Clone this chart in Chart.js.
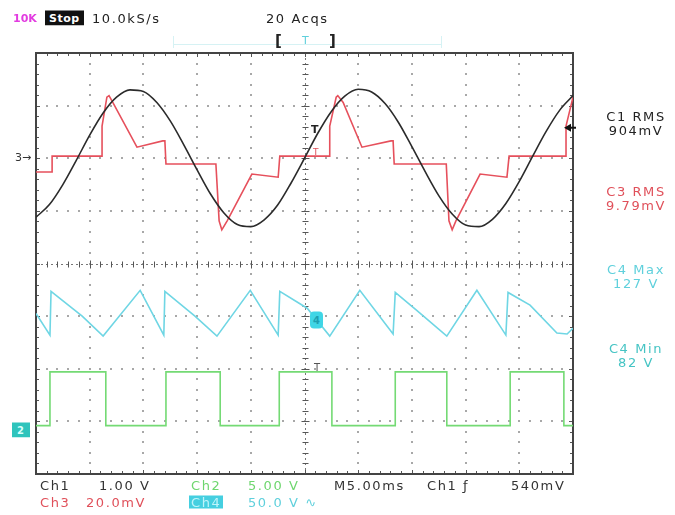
<!DOCTYPE html>
<html><head><meta charset="utf-8">
<script src="https://cdn.jsdelivr.net/npm/chart.js@4/dist/chart.umd.min.js"></script>
<style>
html,body{margin:0;padding:0;background:#fff;}
#wrap{position:relative;width:675px;height:515px;overflow:hidden;background:#fff;}
#c{position:absolute;left:0;top:0;}
.t{position:absolute;font-family:"DejaVu Sans",sans-serif;font-size:13px;letter-spacing:1.6px;white-space:nowrap;line-height:13px;transform:translateY(-50%);}
.r{text-align:center;width:90px;}
</style></head><body>
<div id="wrap">
<canvas id="c" width="675" height="515"></canvas>
<div class="t" style="left:13px;top:18px;color:#e23ce0;font-size:11px;font-weight:bold;letter-spacing:0">10K</div>
<div class="t" style="left:45px;top:18px;background:#111;color:#fff;font-size:11px;font-weight:bold;letter-spacing:0.5px;padding:1px 4px">Stop</div>
<div class="t" style="left:92px;top:18px;color:#222">10.0kS/s</div>
<div class="t" style="left:266px;top:18px;color:#222">20 Acqs</div>
<div class="t" style="left:275px;top:41px;color:#222;font-weight:bold;font-size:15px">[</div>
<div class="t" style="left:302px;top:40px;color:#5fd0dc;font-size:11px">T</div>
<div class="t" style="left:329px;top:41px;color:#222;font-weight:bold;font-size:15px">]</div>

<div class="t" style="left:40px;top:485px;color:#333">Ch1</div>
<div class="t" style="left:99px;top:485px;color:#333">1.00 V</div>
<div class="t" style="left:191px;top:485px;color:#6ed66e">Ch2</div>
<div class="t" style="left:248px;top:485px;color:#6ed66e">5.00 V</div>
<div class="t" style="left:334px;top:485px;color:#333">M5.00ms</div>
<div class="t" style="left:427px;top:485px;color:#333">Ch1 ƒ</div>
<div class="t" style="left:511px;top:485px;color:#333">540mV</div>
<div class="t" style="left:40px;top:502px;color:#e0505a">Ch3</div>
<div class="t" style="left:86px;top:502px;color:#e0505a">20.0mV</div>
<div class="t" style="left:189px;top:502px;background:#45cfe0;color:#bff4fa;padding:0 2px">Ch4</div>
<div class="t" style="left:248px;top:502px;color:#5fd0dc">50.0 V ∿</div>

<div class="t r" style="left:591px;top:116px;color:#222">C1 RMS</div>
<div class="t r" style="left:591px;top:130px;color:#222">904mV</div>
<div class="t r" style="left:591px;top:191px;color:#e0505a">C3 RMS</div>
<div class="t r" style="left:591px;top:205px;color:#e0505a">9.79mV</div>
<div class="t r" style="left:591px;top:269px;color:#5fd0dc">C4 Max</div>
<div class="t r" style="left:591px;top:283px;color:#5fd0dc">127 V</div>
<div class="t r" style="left:591px;top:348px;color:#45c4c4">C4 Min</div>
<div class="t r" style="left:591px;top:362px;color:#45c4c4">82 V</div>

<div class="t" style="left:15px;top:157px;color:#333;font-size:11px;letter-spacing:0">3→</div>
<div class="t" style="left:311px;top:129px;color:#222;font-size:11px;font-weight:bold;letter-spacing:0">T</div>
<div class="t" style="left:313px;top:152px;color:#e0505a;font-size:9px;letter-spacing:0">T</div>
<div class="t" style="left:314px;top:367px;color:#555;font-size:10px;letter-spacing:0">T</div>
<div class="t" style="left:310px;top:320px;background:#3fd6e6;color:#1d9fb2;font-size:10px;font-weight:bold;letter-spacing:0;padding:2px 3px;border-radius:4px">4</div>
<div class="t" style="left:12px;top:430px;background:#2ec4bc;color:#d8fffb;font-size:10px;font-weight:bold;letter-spacing:0;padding:1px 6px 1px 5px">2</div>
</div>
<script>
// time axis in divisions (0..10, 5 ms/div), level in divisions (-4..4)
const ch1Time = [0,0.25,0.5,0.75,1,1.25,1.5,1.75,2,2.25,2.5,2.75,3,3.25,3.5,3.75,4,4.25,4.5,4.75,5,5.25,5.5,5.75,6,6.25,6.5,6.75,7,7.25,7.5,7.75,8,8.25,8.5,8.75,9,9.25,9.5,9.75,10];
const ch1Level = [0.88,1.12,1.50,1.96,2.44,2.86,3.16,3.30,3.27,3.06,2.71,2.26,1.78,1.32,0.96,0.74,0.70,0.83,1.11,1.53,2.00,2.48,2.89,3.18,3.31,3.26,3.04,2.68,2.22,1.74,1.29,0.94,0.73,0.70,0.84,1.14,1.56,2.04,2.51,2.91,3.19];

const ch3Time = [0,0.30,0.30,1.23,1.23,1.32,1.36,1.43,1.88,2.36,2.40,2.42,3.35,3.41,3.46,3.56,4.02,4.51,4.54,5.47,5.47,5.59,5.62,5.72,6.07,6.61,6.65,6.67,7.64,7.69,7.75,7.82,8.27,8.77,8.81,9.87,9.87,10];
const ch3Level = [1.74,1.74,2.04,2.04,2.61,3.16,3.19,3.06,2.21,2.33,2.33,1.89,1.89,0.81,0.64,0.81,1.70,1.64,2.04,2.04,2.61,3.16,3.19,3.06,2.21,2.33,2.33,1.89,1.89,0.81,0.64,0.81,1.70,1.64,2.04,2.04,2.61,3.16];

const ch4Time = [0,0.26,0.28,0.86,1.25,1.94,2.38,2.40,2.96,3.37,3.99,4.51,4.54,5.05,5.47,6.03,6.65,6.69,7.09,7.65,8.21,8.75,8.79,9.20,9.70,9.89,10];
const ch4Level = [-0.95,-1.36,-0.53,-1.00,-1.38,-0.51,-1.36,-0.53,-1.00,-1.38,-0.51,-1.36,-0.53,-0.85,-1.38,-0.51,-1.34,-0.55,-0.89,-1.38,-0.51,-1.36,-0.55,-0.79,-1.32,-1.34,-1.23];

const ch2Time = [0,0.26,0.26,1.30,1.30,2.42,2.42,3.43,3.43,4.53,4.53,5.51,5.51,6.69,6.69,7.65,7.65,8.83,8.83,9.83,9.83,10];
const ch2Level = [-3.08,-3.08,-2.06,-2.06,-3.08,-3.08,-2.06,-2.06,-3.08,-3.08,-2.06,-2.06,-3.08,-3.08,-2.06,-2.06,-3.08,-3.08,-2.06,-2.06,-3.08,-3.08];

const pts = (xs, ys) => xs.map((v, i) => ({x: v, y: ys[i]}));

const graticule = {
  id: 'graticule',
  beforeDatasetsDraw(chart) {
    const {ctx, chartArea: a, scales: {x, y}} = chart;
    ctx.save();
    // dotted division lines
    ctx.fillStyle = '#a8a8a8';
    for (let i = 1; i < 10; i++) {
      if (i === 5) continue;
      const px = Math.round(x.getPixelForValue(i));
      for (let k = 1; k < 40; k++) {
        const py = Math.round(y.getPixelForValue(-4 + k * 0.2));
        ctx.fillRect(px - 1, py - 1, 2, 2);
      }
    }
    for (let j = -3; j <= 3; j++) {
      if (j === 0) continue;
      const py = Math.round(y.getPixelForValue(j));
      for (let k = 1; k < 50; k++) {
        const px = Math.round(x.getPixelForValue(k * 0.2));
        ctx.fillRect(px - 1, py - 1, 2, 2);
      }
    }
    // center cross
    const cx = Math.round(x.getPixelForValue(5)) + 0.5;
    const cy = Math.round(y.getPixelForValue(0)) + 0.5;
    ctx.strokeStyle = '#777';
    ctx.lineWidth = 1;
    ctx.setLineDash([2, 3]);
    ctx.beginPath();
    ctx.moveTo(a.left, cy); ctx.lineTo(a.right, cy);
    ctx.moveTo(cx, a.top); ctx.lineTo(cx, a.bottom);
    ctx.stroke();
    ctx.setLineDash([]);
    ctx.strokeStyle = '#555';
    ctx.beginPath();
    for (let k = 1; k < 50; k++) {
      const px = Math.round(x.getPixelForValue(k * 0.2)) + 0.5;
      const len = (k % 5 === 0) ? 4 : 3;
      ctx.moveTo(px, cy - len); ctx.lineTo(px, cy + len);
      // top and bottom border ticks
      ctx.moveTo(px, a.top); ctx.lineTo(px, a.top + len);
      ctx.moveTo(px, a.bottom); ctx.lineTo(px, a.bottom - len);
    }
    for (let k = 1; k < 40; k++) {
      const py = Math.round(y.getPixelForValue(-4 + k * 0.2)) + 0.5;
      const len = (k % 5 === 0) ? 4 : 3;
      ctx.moveTo(cx - len, py); ctx.lineTo(cx + len, py);
      ctx.moveTo(a.left, py); ctx.lineTo(a.left + len, py);
      ctx.moveTo(a.right, py); ctx.lineTo(a.right - len, py);
    }
    ctx.stroke();
    // border
    ctx.strokeStyle = '#444';
    ctx.lineWidth = 2;
    ctx.strokeRect(a.left, a.top, a.right - a.left, a.bottom - a.top);
    // faint record bar at top
    ctx.strokeStyle = '#d6f2f4';
    ctx.lineWidth = 1;
    ctx.beginPath();
    ctx.moveTo(173, 44.5); ctx.lineTo(441, 44.5);
    ctx.moveTo(173.5, 36); ctx.lineTo(173.5, 48);
    ctx.moveTo(441.5, 36); ctx.lineTo(441.5, 48);
    ctx.stroke();
    ctx.restore();
  },
  afterDatasetsDraw(chart) {
    const {ctx, chartArea: a, scales: {y}} = chart;
    // trigger level arrow (Ch1, 540 mV above Ch1 ground)
    const py = y.getPixelForValue(2.04 + 0.54);
    ctx.save();
    ctx.fillStyle = '#111';
    ctx.beginPath();
    ctx.moveTo(a.right - 9, py);
    ctx.lineTo(a.right - 2, py - 4);
    ctx.lineTo(a.right - 2, py + 4);
    ctx.closePath();
    ctx.fill();
    ctx.fillRect(a.right - 3, py - 1, 6, 2);
    ctx.restore();
  }
};

new Chart(document.getElementById('c'), {
  type: 'scatter',
  data: {
    datasets: [
      {label: 'Ch1', data: pts(ch1Time, ch1Level), showLine: true, borderColor: '#2b2b2b', borderWidth: 1.6, pointRadius: 0, cubicInterpolationMode: 'monotone'},
      {label: 'Ch3', data: pts(ch3Time, ch3Level), showLine: true, borderColor: '#e6505c', borderWidth: 1.6, pointRadius: 0, tension: 0},
      {label: 'Ch4', data: pts(ch4Time, ch4Level), showLine: true, borderColor: '#6fd6e4', borderWidth: 1.6, pointRadius: 0, tension: 0},
      {label: 'Ch2', data: pts(ch2Time, ch2Level), showLine: true, borderColor: '#74da74', borderWidth: 1.6, pointRadius: 0, tension: 0}
    ]
  },
  options: {
    responsive: false,
    animation: false,
    devicePixelRatio: 1,
    layout: {padding: {left: 36, right: 102, top: 53, bottom: 41}},
    plugins: {legend: {display: false}, tooltip: {enabled: false}},
    scales: {
      x: {type: 'linear', min: 0, max: 10, display: false},
      y: {type: 'linear', min: -4, max: 4, display: false}
    }
  },
  plugins: [graticule]
});
</script>
</body></html>
